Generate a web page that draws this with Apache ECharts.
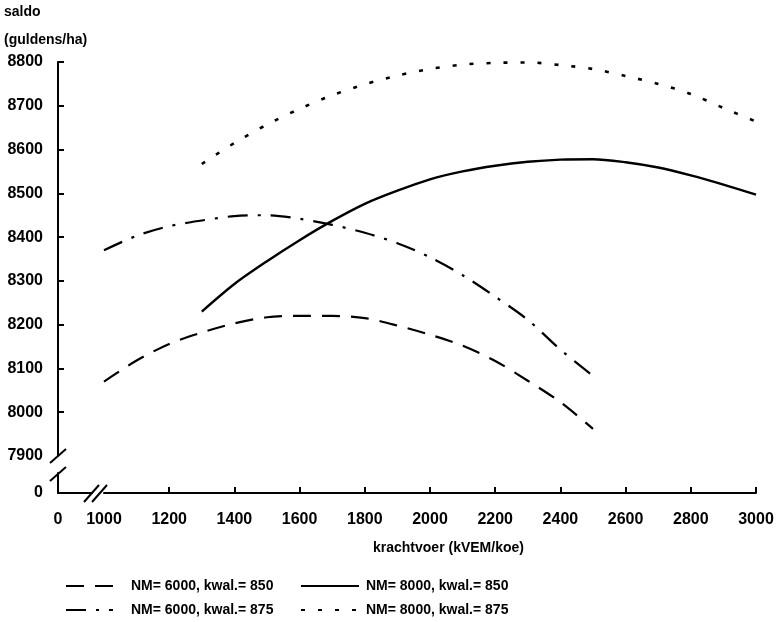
<!DOCTYPE html>
<html>
<head>
<meta charset="utf-8">
<script src="https://cdn.jsdelivr.net/npm/echarts@6/dist/echarts.min.js"></script>
<style>html,body{margin:0;padding:0;background:#fff}#c{width:777px;height:622px}</style>
</head>
<body>
<div id="c"></div>
<script>
// x values (krachtvoer, kVEM/koe)
var xLow = [1000,1100,1200,1300,1400,1500,1600,1700,1800,1900,2000,2100,2200,2300,2400,2500];
var xHigh = [1300,1400,1500,1600,1700,1800,1900,2000,2100,2200,2300,2400,2500,2600,2700,2800,2900,3000];
// saldo (guldens/ha)
var nm6000k850 = [8070,8118,8156,8182,8203,8217,8220,8220,8215,8198,8177,8152,8117,8072,8023,7962];
var nm6000k875 = [8370,8403,8425,8438,8448,8450,8442,8428,8410,8386,8354,8313,8264,8211,8143,8083];
var nm8000k850 = [8230,8293,8345,8393,8437,8476,8506,8532,8550,8563,8572,8577,8578,8571,8559,8541,8520,8497];
var nm8000k875 = [8567,8615,8657,8693,8724,8749,8769,8784,8794,8798,8799,8793,8784,8768,8750,8727,8695,8664];
var names = ['NM= 6000, kwal.= 850','NM= 6000, kwal.= 875','NM= 8000, kwal.= 850','NM= 8000, kwal.= 875'];
var xTickLabels = [1000,1200,1400,1600,1800,2000,2200,2400,2600,2800,3000];
var xTicks = [1200,1400,1600,1800,2000,2200,2400,2600,2800,3000];
var yTickLabels = [7900,8000,8100,8200,8300,8400,8500,8600,8700,8800];
var yTicks = [8000,8100,8200,8300,8400,8500,8600,8700,8800];

function pairs(xs, ys){ return xs.map(function(x,i){ return [x, ys[i]]; }); }

var FONT = 'Liberation Sans, Arial, sans-serif';
function lbl(extra){
  var o = {color:'#000', fontFamily: FONT, fontWeight:'bold', fontSize:16,
           formatter:function(v){ return String(v); }};
  for (var k in extra) o[k] = extra[k];
  return o;
}
var axisLine = {show:true, lineStyle:{color:'#000', width:2}};

function mk(name, xs, ys, dash, w){
  return {
    name: name, type:'line', xAxisIndex:0, yAxisIndex:0,
    data: pairs(xs, ys), symbol:'none', smooth:0.3, animation:false,
    lineStyle:{color:'#000', width:w, type:dash, cap:'butt'},
    itemStyle:{color:'#000'}
  };
}

var chart = echarts.init(document.getElementById('c'));
chart.setOption({
  backgroundColor:'#fff',
  animation:false,
  title:[
    {text:'saldo', left:4, top:5, padding:0, textStyle:{color:'#000', fontFamily:FONT, fontWeight:'bold', fontSize:14}},
    {text:'(guldens/ha)', left:4, top:33, padding:0, textStyle:{color:'#000', fontFamily:FONT, fontWeight:'bold', fontSize:14}},
    {text:'krachtvoer (kVEM/koe)', left:373, top:541, padding:0, textStyle:{color:'#000', fontFamily:FONT, fontWeight:'bold', fontSize:14}}
  ],
  grid:[
    {left:104, right:21, top:62, bottom:166},
    {left:58, top:473, width:34, height:20}
  ],
  xAxis:[
    {type:'value', gridIndex:0, min:1000, max:3000, interval:200, offset:37,
     axisLine:axisLine, splitLine:{show:false},
     axisTick:{show:true, inside:true, length:6, lineStyle:{color:'#000', width:2}, customValues:xTicks},
     axisLabel:lbl({margin:19, customValues:xTickLabels})},
    {type:'value', gridIndex:1, min:0, max:1, axisLine:axisLine, splitLine:{show:false},
     axisTick:{show:false}, axisLabel:lbl({margin:19, customValues:[0]})}
  ],
  yAxis:[
    {type:'value', gridIndex:0, min:7900, max:8800, interval:100, offset:46,
     axisLine:axisLine, splitLine:{show:false},
     axisTick:{show:true, inside:true, length:6, lineStyle:{color:'#000', width:2}, customValues:yTicks},
     axisLabel:lbl({margin:15, customValues:yTickLabels})},
    {type:'value', gridIndex:1, min:0, max:1, axisLine:axisLine, splitLine:{show:false},
     axisTick:{show:false}, axisLabel:lbl({margin:15, customValues:[0]})}
  ],
  legend:[
    {data:[names[0], names[1]], orient:'vertical', left:60, top:574, itemWidth:47, itemHeight:14, itemGap:10,
     itemStyle:{opacity:0}, textStyle:{color:'#000', fontFamily:FONT, fontWeight:'bold', fontSize:14, padding:[0,0,0,13]}},
    {data:[names[2], names[3]], orient:'vertical', left:295, top:574, itemWidth:58, itemHeight:14, itemGap:10,
     itemStyle:{opacity:0}, textStyle:{color:'#000', fontFamily:FONT, fontWeight:'bold', fontSize:14, padding:[0,0,0,2]}}
  ],
  graphic:[
    {type:'line', shape:{x1:50,y1:463,x2:66,y2:449}, style:{stroke:'#000', lineWidth:2}},
    {type:'line', shape:{x1:50,y1:481,x2:66,y2:467}, style:{stroke:'#000', lineWidth:2}},
    {type:'line', shape:{x1:84,y1:502,x2:99,y2:485}, style:{stroke:'#000', lineWidth:2}},
    {type:'line', shape:{x1:92,y1:502,x2:107,y2:485}, style:{stroke:'#000', lineWidth:2}}
  ],
  series:[
    mk(names[0], xLow, nm6000k850, [18,11], 2.2),
    mk(names[1], xLow, nm6000k875, [20,10,3,10], 2.2),
    mk(names[2], xHigh, nm8000k850, 'solid', 2.4),
    mk(names[3], xHigh, nm8000k875, [4,13], 2.6)
  ]
});
</script>
</body>
</html>
